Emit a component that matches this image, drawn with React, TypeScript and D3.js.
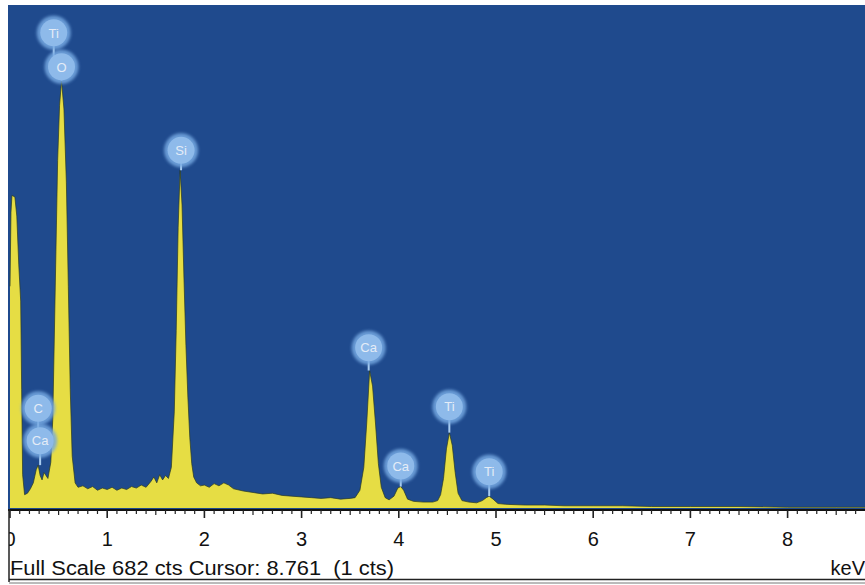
import React from "react";
import * as d3 from "d3";

// ---- spectrum (keV, counts) ----
const energyKeV = [
  0.0, 0.01, 0.02, 0.05, 0.07, 0.09, 0.11, 0.12, 0.13, 0.15, 0.18, 0.21, 0.24, 0.27, 0.29, 0.31, 0.33, 0.35, 0.37, 0.39,
  0.42, 0.44, 0.47, 0.49, 0.51, 0.53, 0.555, 0.58, 0.6, 0.62, 0.64, 0.67, 0.7, 0.75, 0.8, 0.85, 0.9, 0.95, 1.0, 1.05, 1.1,
  1.15, 1.2, 1.25, 1.3, 1.35, 1.4, 1.45, 1.48, 1.51, 1.54, 1.57, 1.6, 1.63, 1.66, 1.69, 1.71, 1.73, 1.75, 1.77, 1.79,
  1.81, 1.83, 1.85, 1.87, 1.89, 1.92, 1.96, 2.0, 2.05, 2.1, 2.15, 2.2, 2.25, 2.3, 2.4, 2.5, 2.6, 2.7, 2.8, 2.9,
  3.0, 3.1, 3.2, 3.3, 3.4, 3.5, 3.55, 3.6, 3.64, 3.67, 3.7, 3.73, 3.76, 3.79, 3.82, 3.86, 3.9, 3.95, 3.99, 4.02,
  4.05, 4.09, 4.15, 4.25, 4.35, 4.4, 4.43, 4.46, 4.49, 4.52, 4.55, 4.58, 4.61, 4.65, 4.72, 4.8, 4.86, 4.9, 4.93, 4.97,
  5.02, 5.1, 5.3, 5.5, 5.7, 6.0, 6.3, 6.6, 7.0, 7.5, 8.0, 8.5, 8.8,
];
const counts = [
  300, 400, 423, 421, 395, 330, 280, 160, 45, 18, 20, 26, 34, 52, 58, 44, 38, 48, 44, 40,
  62, 120, 330, 470, 545, 578, 540, 440, 300, 160, 70, 34, 28, 30, 26, 29, 24, 27, 25, 28, 24,
  27, 25, 29, 27, 31, 28, 36, 42, 34, 45, 38, 44, 40, 55, 130, 240, 380, 457, 410, 310,
  220, 150, 95, 60, 42, 34, 30, 31, 28, 33, 30, 34, 31, 26, 23, 21, 19, 20, 17, 16,
  15, 14, 13, 14, 12, 13, 14, 24, 55, 115, 186, 165, 115, 60, 28, 14, 11, 16, 27, 29,
  24, 12, 9, 8, 8, 10, 18, 40, 80, 102, 85, 48, 20, 10, 8, 7, 10, 14, 16, 12,
  6, 5, 4, 4, 3, 3, 3, 2, 2, 2, 1, 1, 1,
];

// ---- element markers: label, energy, badge height (cts), stem end (cts) ----
const markerLabels = ["Ti", "O", "Si", "Ca", "Ca", "Ti", "Ti", "C", "Ca"];
const markerKeV = [0.45, 0.53, 1.76, 3.69, 4.02, 4.52, 4.93, 0.29, 0.31];
const markerCts = [643, 597, 484, 217, 57, 137, 49, 135, 91];
const markerStemTo = [597, 578, 457, 186, 29, 102, 16, 91, 58];

const majorTicks = [0, 1, 2, 3, 4, 5, 6, 7, 8];
const fullScale = 682;
const footer = "Full Scale 682 cts Cursor: 8.761  (1 cts)";

const W = 865;
const H = 585;
const plot = { left: 8, top: 5, right: 865, bottom: 509 };
const FONT = "'Liberation Sans', Arial, sans-serif";

export default function App() {
  const x = d3.scaleLinear().domain([0, 8.8]).range([10, 10 + 97.2 * 8.8]);
  const y = d3.scaleLinear().domain([0, fullScale]).range([508, 4]);

  const pts = energyKeV.map((k, i) => ({ k, c: counts[i] }));
  const area = d3.area<{ k: number; c: number }>().x(d => x(d.k)).y0(y(0)).y1(d => y(d.c));
  const line = d3.line<{ k: number; c: number }>().x(d => x(d.k)).y(d => y(d.c));

  const minor = d3.range(0, 88).map(i => i / 10);

  return (
    <svg width={W} height={H} style={{ position: "absolute", left: 0, top: 0, background: "#fff" }}>
      <defs>
        <clipPath id="plotClip">
          <rect x={plot.left} y={plot.top} width={plot.right - plot.left} height={plot.bottom - plot.top} />
        </clipPath>
        <clipPath id="panelClip">
          <rect x={9} y={0} width={W} height={H} />
        </clipPath>
        <filter id="soft" x="-50%" y="-50%" width="200%" height="200%">
          <feGaussianBlur stdDeviation="1.8" />
        </filter>
      </defs>

      <rect x={plot.left} y={plot.top} width={plot.right - plot.left} height={plot.bottom - plot.top} fill="#1f4a8d" />

      <g clipPath="url(#plotClip)">
        <path d={area(pts) ?? ""} fill="#e6dd44" />
        <path d={line(pts) ?? ""} fill="none" stroke="#2a3a22" strokeWidth={1} strokeOpacity={0.7} />

        {markerLabels.map((lab, i) => (
          <line
            key={"s" + i}
            x1={x(markerKeV[i])}
            x2={x(markerKeV[i])}
            y1={y(markerCts[i])}
            y2={y(markerStemTo[i])}
            stroke="#a9cdf0"
            strokeWidth={2}
          />
        ))}
        {markerLabels.map((lab, i) => (
          <g key={"m" + i} transform={`translate(${x(markerKeV[i])},${y(markerCts[i])})`}>
            <circle r={17} fill="#76a9e2" opacity={0.85} filter="url(#soft)" />
            <circle r={13.5} fill="#8ebaea" />
            <text
              textAnchor="middle"
              dy="0.36em"
              fontFamily={FONT}
              fontSize={13}
              fill="#e4ecf7"
            >
              {lab}
            </text>
          </g>
        ))}
      </g>

      {/* x axis */}
      <line x1={plot.left} x2={W} y1={510} y2={510} stroke="#111" strokeWidth={2} />
      {minor.map(t => {
        const major = Math.abs(t - Math.round(t)) < 1e-6;
        const half = Math.abs(t * 2 - Math.round(t * 2)) < 1e-6;
        return (
          <line
            key={"t" + t}
            x1={x(t)}
            x2={x(t)}
            y1={510}
            y2={major ? 518 : half ? 515 : 514}
            stroke="#222"
            strokeWidth={major ? 1.6 : 1.2}
          />
        );
      })}
      <g clipPath="url(#panelClip)">
        {majorTicks.map(t => (
          <text key={"l" + t} x={x(t)} y={546} textAnchor="middle" fontFamily={FONT} fontSize={20} fill="#111">
            {t}
          </text>
        ))}
      </g>

      {/* bottom panel */}
      <line x1={9} x2={9} y1={509} y2={582} stroke="#222" strokeWidth={1.5} />
      <line x1={9} x2={W} y1={579.5} y2={579.5} stroke="#222" strokeWidth={1.5} />
      <line x1={9} x2={W} y1={583} y2={583} stroke="#777" strokeWidth={1} />
      <text
        x={10}
        y={575}
        fontFamily={FONT}
        fontSize={20}
        fill="#111"
        textLength={384}
        lengthAdjust="spacingAndGlyphs"
        style={{ whiteSpace: "pre" }}
      >
        {footer}
      </text>
      <text x={865} y={575} textAnchor="end" fontFamily={FONT} fontSize={20} fill="#111">
        keV
      </text>
    </svg>
  );
}
